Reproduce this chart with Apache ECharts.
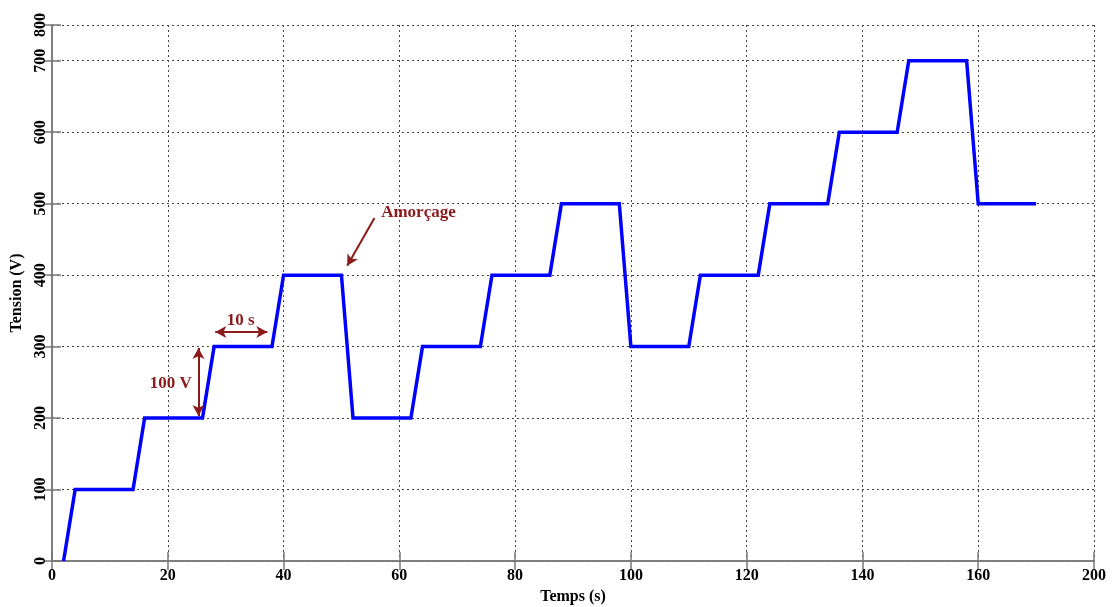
<!DOCTYPE html>
<html>
<head>
<meta charset="utf-8">
<script src="https://cdn.jsdelivr.net/npm/echarts@6/dist/echarts.min.js"></script>
<style>
  html, body { margin: 0; padding: 0; background: #fff; }
  #chart { width: 1112px; height: 607px; }
</style>
</head>
<body>
<div id="chart"></div>
<script>
// voltage steps (time in s, tension in V)
const timeS = [2, 4, 14, 16, 26, 28, 38, 40, 50, 52, 62, 64, 74, 76, 86, 88, 98, 100,
  110, 112, 122, 124, 134, 136, 146, 148, 158, 160, 170]
const tensionV = [0, 100, 100, 200, 200, 300, 300, 400, 400, 200, 200, 300, 300, 400, 400, 500, 500, 300,
  300, 400, 400, 500, 500, 600, 600, 700, 700, 500, 500]

// tick labels as printed on the figure (axes end at 180 / 750 but read 200 / 800)
const xTickLabels = ['0', '20', '40', '60', '80', '100', '120', '140', '160', '200']
const yTickLabels = ['0', '100', '200', '300', '400', '500', '600', '700', '800']

// annotations
const annotArrows = [
  { from: [28.2, 320.5], to: [37.2, 320.5], both: true },
  { from: [25.3, 298], to: [25.3, 203], both: true },
  { from: [55.7, 480], to: [51.0, 413], both: false }
]
const annotTexts = [
  { text: '10 s', at: [32.6, 337] },
  { text: '100 V', at: [20.5, 248] },
  { text: 'Amorçage', at: [63.3, 487] }
]

const darkRed = '#8b1a1a'
const axisGray = '#7a7a7a'
const font = '"Liberation Serif", "DejaVu Serif", serif'

const chart = echarts.init(document.getElementById('chart'))

const tickLabelStyle = {
  fontFamily: font,
  fontWeight: 'bold',
  fontSize: 16,
  color: '#000'
}

const option = {
  animation: false,
  grid: { left: 52, right: 18, top: 25, bottom: 46, containLabel: false, outerBoundsMode: 'none' },
  xAxis: [
    {
      type: 'value',
      min: 0,
      max: 180,
      interval: 20,
      name: 'Temps (s)',
      nameLocation: 'middle',
      nameGap: 26,
      nameTextStyle: { fontFamily: font, fontWeight: 'bold', fontSize: 16, color: '#000' },
      axisLine: { show: true, lineStyle: { color: axisGray, width: 1.5 } },
      axisTick: { show: true, inside: true, length: 9, lineStyle: { color: axisGray, width: 1.5 } },
      axisLabel: Object.assign({
        margin: 7,
        formatter: v => xTickLabels[Math.round(v / 20)]
      }, tickLabelStyle),
      splitLine: { show: true, lineStyle: { color: '#444', type: [2, 3], width: 1 } }
    },
    {
      type: 'value',
      position: 'top',
      min: 0,
      max: 180,
      interval: 20,
      axisLine: { show: true, lineStyle: { color: axisGray, width: 1.5 } },
      axisTick: { show: true, inside: true, length: 9, lineStyle: { color: axisGray, width: 1.5 } },
      axisLabel: { show: false },
      splitLine: { show: false }
    }
  ],
  yAxis: [
    {
      type: 'value',
      min: 0,
      max: 750,
      interval: 100,
      name: 'Tension (V)',
      nameLocation: 'middle',
      nameGap: 26,
      nameTextStyle: { fontFamily: font, fontWeight: 'bold', fontSize: 16, color: '#000' },
      axisLine: { show: true, lineStyle: { color: axisGray, width: 1.5 } },
      axisTick: { show: true, inside: true, length: 9, lineStyle: { color: axisGray, width: 1.5 } },
      axisLabel: Object.assign({
        rotate: 90,
        margin: 3,
        formatter: v => yTickLabels[Math.ceil(v / 100)]
      }, tickLabelStyle),
      splitLine: { show: true, lineStyle: { color: '#444', type: [2, 3], width: 1 } }
    },
    {
      type: 'value',
      position: 'right',
      min: 0,
      max: 750,
      interval: 100,
      axisLine: { show: true, lineStyle: { color: axisGray, width: 1.5 } },
      axisTick: { show: true, inside: true, length: 9, lineStyle: { color: axisGray, width: 1.5 } },
      axisLabel: { show: false },
      splitLine: { show: false }
    }
  ],
  series: [
    {
      name: 'Tension',
      type: 'line',
      data: timeS.map((t, i) => [t, tensionV[i]]),
      showSymbol: false,
      symbol: 'none',
      lineStyle: { color: '#0000ff', width: 3.5, join: 'miter' },
      z: 3,
      markLine: {
        silent: true,
        symbol: ['arrow', 'arrow'],
        symbolSize: [9, 11],
        label: { show: false },
        lineStyle: { color: darkRed, width: 2, type: 'solid' },
        data: annotArrows.map(a => [
          { coord: a.from, symbol: a.both ? 'arrow' : 'none' },
          { coord: a.to, symbol: 'arrow' }
        ])
      },
      markPoint: {
        silent: true,
        symbol: 'circle',
        symbolSize: 0,
        label: {
          show: true,
          position: 'inside',
          fontFamily: font,
          fontWeight: 'bold',
          fontSize: 17,
          color: darkRed
        },
        data: annotTexts.map(a => ({
          coord: a.at,
          value: a.text,
          label: { formatter: a.text }
        }))
      }
    }
  ]
}

chart.setOption(option)
</script>
</body>
</html>
